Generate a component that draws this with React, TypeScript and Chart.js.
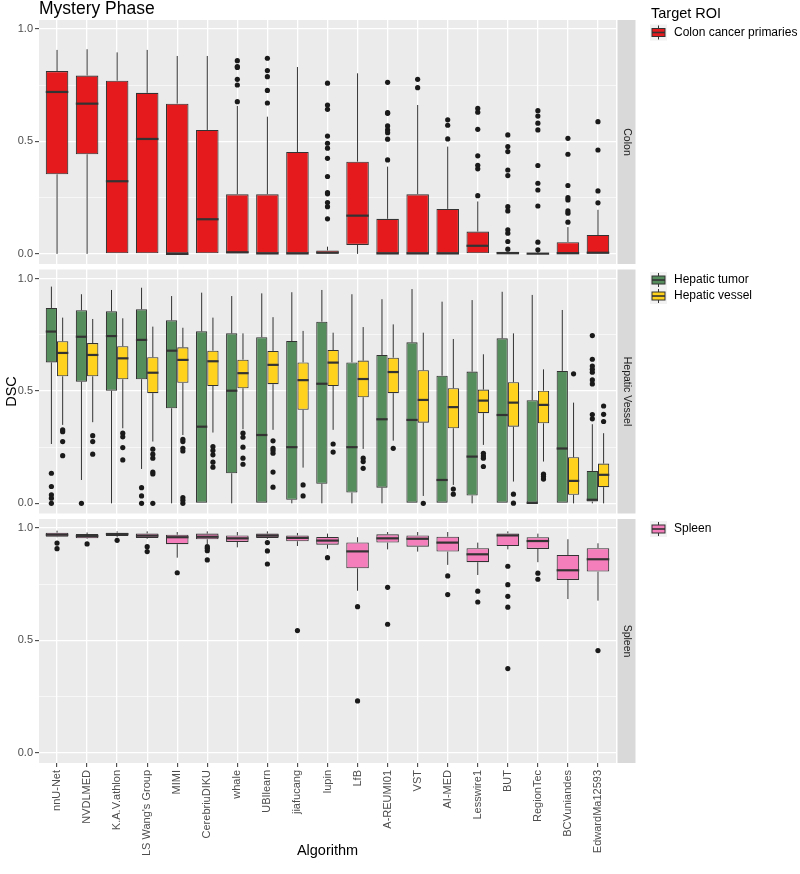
import React, { useEffect, useRef } from 'react';
import { Chart, registerables } from 'chart.js';

Chart.register(...registerables);

const FONT = '"Liberation Sans", Arial, Helvetica, sans-serif';

// ---------------- DATA ----------------
const algorithms = [
  'nnU-Net', 'NVDLMED', 'K.A.V.athlon', "LS Wang's Group", 'MIMI', 'CerebriuDIKU', 'whale',
  'UBIlearn', 'jiafucang', 'lupin', 'LfB', 'A-REUMI01', 'VST', 'AI-MED', 'Lesswire1', 'BUT',
  'RegionTec', 'BCVuniandes', 'EdwardMa12593',
];
const yTickValues = [0, 0.25, 0.5, 0.75, 1];
const yTickLabels = ['0.0', '', '0.5', '', '1.0'];
const panelNames = ['Colon', 'Hepatic Vessel', 'Spleen'];

// Colon cancer primaries
const colonLow = [0, 0, 0, 0, 0, 0, 0, 0, 0, 0, 0, 0, 0, 0, 0, 0, 0, 0, 0];
const colonQ1 = [0.354, 0.443, 0, 0, 0, 0, 0, 0, 0, 0, 0.04, 0, 0, 0, 0, 0, 0, 0, 0];
const colonMed = [0.72, 0.668, 0.323, 0.511, 0, 0.154, 0.007, 0.002, 0.002, 0.005, 0.17, 0.002, 0.002, 0.002, 0.036, 0.003, 0.001, 0.003, 0.005];
const colonQ3 = [0.813, 0.793, 0.77, 0.716, 0.668, 0.551, 0.265, 0.265, 0.453, 0.015, 0.41, 0.156, 0.265, 0.2, 0.099, 0.01, 0.004, 0.052, 0.084];
const colonHigh = [0.907, 0.91, 0.896, 0.907, 0.88, 0.88, 0.658, 0.61, 0.831, 0.032, 0.803, 0.388, 0.662, 0.477, 0.233, 0.016, 0.008, 0.119, 0.196];
const colonOut = [
  [], [], [], [], [], [],
  [0.859, 0.833, 0.829, 0.776, 0.751, 0.677],
  [0.87, 0.815, 0.788, 0.727, 0.671],
  [],
  [0.759, 0.662, 0.643, 0.524, 0.492, 0.47, 0.425, 0.344, 0.272, 0.267, 0.228, 0.21, 0.156],
  [],
  [0.763, 0.628, 0.625, 0.569, 0.551, 0.539, 0.51, 0.418],
  [0.776, 0.739],
  [0.596, 0.572, 0.511],
  [0.647, 0.63, 0.554, 0.436, 0.394, 0.378, 0.259],
  [0.529, 0.477, 0.455, 0.373, 0.348, 0.21, 0.191, 0.107, 0.092, 0.055, 0.021],
  [0.637, 0.613, 0.581, 0.551, 0.393, 0.314, 0.284, 0.213, 0.052, 0.018],
  [0.514, 0.443, 0.304, 0.25, 0.24, 0.191, 0.181, 0.141],
  [0.588, 0.462, 0.28, 0.227],
];

// Hepatic tumor
const tumorLow = [0.264, 0.104, 0, 0.153, 0, 0, 0, 0, 0, 0, 0, 0, 0, 0, 0, 0, 0, 0, 0];
const tumorQ1 = [0.627, 0.541, 0.501, 0.552, 0.423, 0, 0.134, 0, 0.016, 0.087, 0.048, 0.07, 0, 0, 0.035, 0, 0, 0, 0.008];
const tumorMed = [0.764, 0.741, 0.744, 0.727, 0.679, 0.341, 0.501, 0.304, 0.25, 0.532, 0.25, 0.374, 0.371, 0.104, 0.208, 0.393, 0.002, 0.244, 0.016];
const tumorQ3 = [0.869, 0.859, 0.854, 0.863, 0.814, 0.765, 0.756, 0.739, 0.722, 0.808, 0.627, 0.66, 0.716, 0.568, 0.586, 0.734, 0.459, 0.589, 0.144];
const tumorHigh = [0.964, 0.93, 0.949, 0.959, 0.922, 0.937, 0.922, 0.934, 0.939, 0.949, 0.93, 0.908, 0.953, 0.897, 0.904, 0.941, 0.927, 0.86, 0.352];
const tumorOut = [
  [0.134, 0.075, 0.038, 0.023, 0], [0], [], [0.07, 0.033, 0], [], [], [], [], [], [], [], [], [], [], [], [], [], [],
  [0.746, 0.641, 0.611, 0.596, 0.583, 0.549, 0.531, 0.395, 0.376],
];

// Hepatic vessel
const vesselLow = [0.349, 0.361, 0.334, 0.275, 0.304, 0.315, 0.33, 0.327, 0.159, 0.327, 0.242, 0.279, 0.033, 0.082, 0.26, 0.097, 0.186, 0, 0];
const vesselQ1 = [0.565, 0.565, 0.552, 0.49, 0.536, 0.522, 0.512, 0.53, 0.416, 0.522, 0.472, 0.49, 0.359, 0.334, 0.401, 0.341, 0.356, 0.038, 0.072];
const vesselMed = [0.669, 0.66, 0.645, 0.581, 0.638, 0.632, 0.579, 0.616, 0.548, 0.626, 0.553, 0.584, 0.46, 0.428, 0.457, 0.448, 0.438, 0.1, 0.127];
const vesselQ3 = [0.721, 0.713, 0.699, 0.65, 0.694, 0.679, 0.639, 0.678, 0.627, 0.682, 0.635, 0.648, 0.592, 0.512, 0.506, 0.539, 0.501, 0.205, 0.177];
const vesselHigh = [0.826, 0.82, 0.823, 0.786, 0.781, 0.826, 0.756, 0.828, 0.767, 0.759, 0.784, 0.796, 0.759, 0.731, 0.663, 0.756, 0.596, 0.448, 0.312];
const vesselOut = [
  [0.327, 0.319, 0.275, 0.212],
  [0.301, 0.275, 0.219],
  [0.312, 0.296, 0.248, 0.193],
  [0.241, 0.219, 0.201, 0.139, 0.131, 0],
  [0.285, 0.275, 0.245, 0.233, 0.026, 0.014, 0],
  [0.252, 0.235, 0.216, 0.183, 0.161],
  [0.312, 0.294, 0.25, 0.201, 0.174],
  [0.278, 0.245, 0.235, 0.223, 0.139, 0.072],
  [0.082, 0.033],
  [0.264, 0.228],
  [0.201, 0.186, 0.156],
  [0.245],
  [0],
  [0.064, 0.041],
  [0.223, 0.211, 0.201, 0.164],
  [0.041, 0.001],
  [0.13, 0.119, 0.108],
  [0.576],
  [0.433, 0.396, 0.364],
];

// Spleen
const spleenLow = [0.959, 0.951, 0.959, 0.952, 0.868, 0.924, 0.914, 0.952, 0.92, 0.908, 0.721, 0.905, 0.895, 0.836, 0.791, 0.905, 0.848, 0.684, 0.677];
const spleenQ1 = [0.961, 0.954, 0.964, 0.956, 0.928, 0.95, 0.938, 0.956, 0.941, 0.926, 0.821, 0.935, 0.917, 0.895, 0.848, 0.92, 0.907, 0.769, 0.806];
const spleenMed = [0.97, 0.964, 0.973, 0.966, 0.959, 0.961, 0.954, 0.966, 0.956, 0.944, 0.896, 0.954, 0.952, 0.935, 0.883, 0.967, 0.942, 0.812, 0.861];
const spleenQ3 = [0.979, 0.973, 0.979, 0.976, 0.97, 0.975, 0.967, 0.975, 0.967, 0.96, 0.936, 0.972, 0.967, 0.961, 0.91, 0.976, 0.959, 0.88, 0.91];
const spleenHigh = [0.988, 0.98, 0.985, 0.985, 0.982, 0.985, 0.982, 0.985, 0.978, 0.975, 0.959, 0.982, 0.982, 0.982, 0.935, 0.985, 0.975, 0.95, 0.932];
const spleenOut = [
  [0.933, 0.908], [0.929], [0.945], [0.917, 0.895], [0.801], [0.917, 0.91, 0.899, 0.858], [],
  [0.935, 0.898, 0.84], [0.544], [0.868], [0.65, 0.231], [0.736, 0.572], [], [0.787, 0.704],
  [0.719, 0.671], [0.83, 0.748, 0.696, 0.648, 0.375], [0.799, 0.772], [], [0.455],
];

// ---------------- STYLE / LAYOUT ----------------
const COLORS = {
  colon: '#E41A1C',
  tumor: '#568D5C',
  vessel: '#FFD21E',
  spleen: '#F47EBB',
};
const PANEL_MIN = -0.045;
const PANEL_MAX = 1.04;
const panelAxes = ['yColon', 'yHepatic', 'ySpleen'];
const axisRanges: [number, number][] = [
  [-0.0613, 1.04],
  [-0.0532, 1.0482],
  [-0.045, 1.0563],
];

type Stats = { low: number[]; q1: number[]; med: number[]; q3: number[]; high: number[]; out: number[][] };

const colonStats: Stats = { low: colonLow, q1: colonQ1, med: colonMed, q3: colonQ3, high: colonHigh, out: colonOut };
const tumorStats: Stats = { low: tumorLow, q1: tumorQ1, med: tumorMed, q3: tumorQ3, high: tumorHigh, out: tumorOut };
const vesselStats: Stats = { low: vesselLow, q1: vesselQ1, med: vesselMed, q3: vesselQ3, high: vesselHigh, out: vesselOut };
const spleenStats: Stats = { low: spleenLow, q1: spleenQ1, med: spleenMed, q3: spleenQ3, high: spleenHigh, out: spleenOut };

const DODGE = 0.1875;

function boxDataset(label: string, stats: Stats, axis: string, color: string, grouped: boolean, stack: string) {
  return {
    type: 'bar',
    label,
    xAxisID: 'x',
    yAxisID: axis,
    data: stats.q1.map((q, i) => ({ x: i, y: [q, stats.q3[i]] })),
    backgroundColor: color,
    borderColor: '#333333',
    borderWidth: 1.1,
    borderSkipped: false,
    grouped,
    stack,
    barPercentage: 1,
    categoryPercentage: 0.75,
    boxStats: stats,
    order: 2,
  } as any;
}

function outlierDataset(label: string, stats: Stats, axis: string, offset: number) {
  const pts: { x: number; y: number }[] = [];
  stats.out.forEach((arr, i) => arr.forEach((v) => pts.push({ x: i + offset, y: v })));
  return {
    type: 'scatter',
    label,
    xAxisID: 'x',
    yAxisID: axis,
    data: pts,
    pointRadius: 2.6,
    pointBackgroundColor: '#1A1A1A',
    pointBorderWidth: 0,
    pointBorderColor: '#1A1A1A',
    showLine: false,
    order: 0,
  } as any;
}

function yAxis(k: number) {
  const majors = [0, 0.5, 1];
  return {
    type: 'linear',
    position: 'left',
    stack: 'panels',
    stackWeight: 1,
    weight: 3 - k,
    min: axisRanges[k][0],
    max: axisRanges[k][1],
    offset: false,
    afterBuildTicks: (s: any) => {
      s.ticks = yTickValues.map((v) => ({ value: v }));
    },
    afterFit: (s: any) => {
      s.width = 39;
    },
    border: { display: false },
    grid: {
      color: '#FFFFFF',
      lineWidth: (c: any) => (c.tick && majors.includes(c.tick.value) ? 1.3 : 0.6),
      tickColor: (c: any) => (c.tick && majors.includes(c.tick.value) ? '#333333' : 'rgba(0,0,0,0)'),
      tickLength: 4,
      tickWidth: 1,
    },
    ticks: {
      autoSkip: false,
      callback: (v: number) => {
        const idx = yTickValues.findIndex((t) => Math.abs(t - v) < 1e-6);
        return idx >= 0 ? yTickLabels[idx] : '';
      },
      color: '#4D4D4D',
      font: { family: FONT, size: 11 },
      padding: 2,
    },
  } as any;
}

function drawKey(ctx: CanvasRenderingContext2D, x: number, cy: number, fill: string) {
  ctx.fillStyle = '#F2F2F2';
  ctx.fillRect(x, cy - 8, 17, 16);
  ctx.strokeStyle = '#333333';
  ctx.lineWidth = 1;
  ctx.beginPath();
  ctx.moveTo(x + 8.5, cy - 7);
  ctx.lineTo(x + 8.5, cy + 7);
  ctx.stroke();
  ctx.fillStyle = fill;
  ctx.fillRect(x + 2, cy - 4, 13, 8);
  ctx.strokeRect(x + 2, cy - 4, 13, 8);
  ctx.lineWidth = 1.6;
  ctx.beginPath();
  ctx.moveTo(x + 2, cy);
  ctx.lineTo(x + 15, cy);
  ctx.stroke();
}

const extrasPlugin = {
  id: 'ggExtras',
  beforeDraw(chart: any) {
    const { ctx, chartArea } = chart;
    ctx.save();
    panelAxes.forEach((id) => {
      const s = chart.scales[id];
      const top = s.getPixelForValue(PANEL_MAX);
      const bottom = s.getPixelForValue(PANEL_MIN);
      ctx.fillStyle = '#EBEBEB';
      ctx.fillRect(chartArea.left, top, chartArea.right - chartArea.left, bottom - top);
    });
    ctx.restore();
  },
  afterDatasetsDraw(chart: any) {
    const { ctx } = chart;
    ctx.save();
    chart.data.datasets.forEach((ds: any, i: number) => {
      if (!ds.boxStats) return;
      const st: Stats = ds.boxStats;
      const meta = chart.getDatasetMeta(i);
      const ys = chart.scales[ds.yAxisID];
      meta.data.forEach((el: any, j: number) => {
        const x = el.x;
        const w = el.width;
        ctx.strokeStyle = '#333333';
        ctx.lineWidth = 1;
        ctx.beginPath();
        ctx.moveTo(x, ys.getPixelForValue(st.q3[j]));
        ctx.lineTo(x, ys.getPixelForValue(st.high[j]));
        ctx.moveTo(x, ys.getPixelForValue(st.q1[j]));
        ctx.lineTo(x, ys.getPixelForValue(st.low[j]));
        ctx.stroke();
        ctx.lineWidth = 2.2;
        ctx.beginPath();
        const my = ys.getPixelForValue(st.med[j]);
        ctx.moveTo(x - w / 2, my);
        ctx.lineTo(x + w / 2, my);
        ctx.stroke();
      });
    });
    ctx.restore();
  },
  afterDraw(chart: any) {
    const { ctx, chartArea } = chart;
    ctx.save();
    // Title
    ctx.fillStyle = '#000000';
    ctx.font = `17.5px ${FONT}`;
    ctx.textAlign = 'left';
    ctx.textBaseline = 'alphabetic';
    ctx.fillText('Mystery Phase', chartArea.left, 14);

    // Y title
    ctx.save();
    ctx.translate(12, (chartArea.top + chartArea.bottom) / 2);
    ctx.rotate(-Math.PI / 2);
    ctx.font = `14.5px ${FONT}`;
    ctx.textAlign = 'center';
    ctx.textBaseline = 'middle';
    ctx.fillText('DSC', 0, 0);
    ctx.restore();

    // X title
    ctx.font = `14.5px ${FONT}`;
    ctx.textAlign = 'center';
    ctx.textBaseline = 'middle';
    ctx.fillText('Algorithm', (chartArea.left + chartArea.right) / 2, 851);

    // Strips
    const tops: number[] = [];
    panelAxes.forEach((id, k) => {
      const s = chart.scales[id];
      const top = s.getPixelForValue(PANEL_MAX);
      const bottom = s.getPixelForValue(PANEL_MIN);
      tops.push(top);
      const sx = chartArea.right + 1.5;
      ctx.fillStyle = '#D9D9D9';
      ctx.fillRect(sx, top, 18, bottom - top);
      ctx.save();
      ctx.translate(sx + 9, (top + bottom) / 2);
      ctx.rotate(Math.PI / 2);
      ctx.fillStyle = '#1A1A1A';
      ctx.font = `10.5px ${FONT}`;
      ctx.textAlign = 'center';
      ctx.textBaseline = 'middle';
      ctx.fillText(panelNames[k], 0, 0);
      ctx.restore();
    });

    // Legends
    const lx = 650;
    ctx.fillStyle = '#000000';
    ctx.font = `14.5px ${FONT}`;
    ctx.textAlign = 'left';
    ctx.textBaseline = 'alphabetic';
    ctx.fillText('Target ROI', lx + 1, tops[0] - 2);
    const groups = [
      { start: tops[0] + 12.5, items: [{ label: 'Colon cancer primaries', color: COLORS.colon }] },
      {
        start: tops[1] + 10.5,
        items: [
          { label: 'Hepatic tumor', color: COLORS.tumor },
          { label: 'Hepatic vessel', color: COLORS.vessel },
        ],
      },
      { start: tops[2] + 10, items: [{ label: 'Spleen', color: COLORS.spleen }] },
    ];
    groups.forEach((g) => {
      g.items.forEach((it, n) => {
        const cy = g.start + n * 16;
        drawKey(ctx, lx, cy, it.color);
        ctx.fillStyle = '#000000';
        ctx.font = `12px ${FONT}`;
        ctx.textAlign = 'left';
        ctx.textBaseline = 'middle';
        ctx.fillText(it.label, lx + 24, cy);
      });
    });
    ctx.restore();
  },
};

export default function App() {
  const ref = useRef<HTMLCanvasElement | null>(null);
  useEffect(() => {
    if (!ref.current) return;
    const datasets = [
      outlierDataset('Colon outliers', colonStats, 'yColon', 0),
      outlierDataset('Tumor outliers', tumorStats, 'yHepatic', -DODGE),
      outlierDataset('Vessel outliers', vesselStats, 'yHepatic', DODGE),
      outlierDataset('Spleen outliers', spleenStats, 'ySpleen', 0),
      boxDataset('Colon cancer primaries', colonStats, 'yColon', COLORS.colon, false, 'colon'),
      boxDataset('Hepatic tumor', tumorStats, 'yHepatic', COLORS.tumor, true, 'tumor'),
      boxDataset('Hepatic vessel', vesselStats, 'yHepatic', COLORS.vessel, true, 'vessel'),
      boxDataset('Spleen', spleenStats, 'ySpleen', COLORS.spleen, false, 'spleen'),
    ];
    const chart = new Chart(ref.current, {
      type: 'bar',
      data: { datasets } as any,
      plugins: [extrasPlugin as any],
      options: {
        responsive: false,
        animation: false,
        events: [],
        layout: { padding: { left: 0, top: 20, right: 184, bottom: 0 } },
        plugins: { legend: { display: false }, tooltip: { enabled: false }, title: { display: false } },
        scales: {
          x: {
            type: 'linear',
            position: 'bottom',
            min: -0.6,
            max: 18.6,
            offset: false,
            afterBuildTicks: (s: any) => {
              s.ticks = algorithms.map((_, i) => ({ value: i }));
            },
            afterFit: (s: any) => {
              s.height = 111;
            },
            border: { display: false },
            grid: {
              color: '#FFFFFF',
              lineWidth: 1.3,
              offset: false,
              tickColor: '#333333',
              tickLength: 4,
              tickWidth: 1,
            },
            ticks: {
              autoSkip: false,
              maxRotation: 90,
              minRotation: 90,
              callback: (v: number) => algorithms[Math.round(v)] ?? '',
              color: '#4D4D4D',
              font: { family: FONT, size: 11 },
              padding: 3,
            },
          },
          yColon: yAxis(0),
          yHepatic: yAxis(1),
          ySpleen: yAxis(2),
        } as any,
      },
    });
    return () => chart.destroy();
  }, []);
  return (
    <canvas
      ref={ref}
      width={800}
      height={874}
      style={{ position: 'absolute', left: 0, top: 0, width: 800, height: 874, display: 'block' }}
    />
  );
}
